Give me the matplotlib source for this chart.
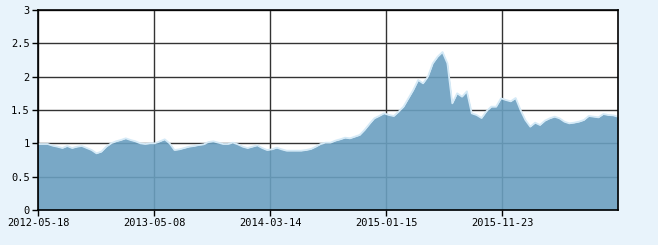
import matplotlib
matplotlib.use("Agg")
import matplotlib.pyplot as plt
import numpy as np

# values, left to right (evenly spaced trading days)
values = [
    0.99, 0.99, 0.99, 0.965, 0.95, 0.93, 0.96, 0.93, 0.95, 0.96, 0.93, 0.90,
    0.85, 0.875, 0.95, 1.00, 1.03, 1.05, 1.075, 1.05, 1.03, 1.00, 0.99, 1.00,
    1.00, 1.03, 1.06, 1.00, 0.90, 0.91, 0.93, 0.95, 0.96, 0.975, 0.985, 1.02,
    1.03, 1.01, 0.99, 0.99, 1.01, 0.985, 0.95, 0.93, 0.95, 0.97, 0.93, 0.90,
    0.91, 0.935, 0.91, 0.89, 0.89, 0.89, 0.89, 0.90, 0.915, 0.95, 0.99, 1.01,
    1.01, 1.04, 1.06, 1.085, 1.075, 1.10, 1.125, 1.20, 1.29, 1.375, 1.41, 1.45,
    1.425, 1.41, 1.475, 1.55, 1.675, 1.80, 1.95, 1.90, 2.00, 2.20, 2.30,
    2.37, 2.20, 1.60, 1.75, 1.70, 1.78, 1.45, 1.425, 1.38, 1.48, 1.55, 1.55,
    1.675, 1.65, 1.63, 1.68, 1.50, 1.35, 1.25, 1.31, 1.275, 1.34, 1.375, 1.40,
    1.375, 1.325, 1.30, 1.31, 1.325, 1.35, 1.41, 1.40, 1.39, 1.44, 1.425,
    1.42, 1.40,
]
tick_labels = ["2012-05-18", "2013-05-08", "2014-03-14", "2015-01-15", "2015-11-23"]
y_ticks = [0, 0.5, 1, 1.5, 2, 2.5, 3]
y_labels = ["0", "0.5", "1", "1.5", "2", "2.5", "3"]

bg = "#e8f3fb"
fill_col = "#6a9fc0"

fig = plt.figure(figsize=(6.58, 2.45), dpi=100, facecolor=bg)
ax = fig.add_axes([38 / 658, 35 / 245, 580 / 658, 200 / 245])
ax.set_facecolor("white")

x = np.arange(len(values))
n = len(values) - 1
ax.set_xlim(0, n)
ax.set_ylim(0, 3)

ax.set_axisbelow(True)
ax.grid(True, color="#333333", linewidth=1.0)

ax.fill_between(x, values, 0, color=fill_col, alpha=0.9, linewidth=0, zorder=2)
ax.plot(x, values, color="#d5eaf7", linewidth=1.3, zorder=3)

ax.set_xticks([n * k / 5 for k in range(5)])
ax.set_xticklabels(tick_labels)
ax.set_yticks(y_ticks)
ax.set_yticklabels(y_labels)
ax.tick_params(axis="both", direction="out", length=4, width=1, color="black",
               labelsize=7.5, pad=2)
for lab in ax.get_xticklabels() + ax.get_yticklabels():
    lab.set_family("DejaVu Sans Mono")

for s in ax.spines.values():
    s.set_color("black")
    s.set_linewidth(1.2)
    s.set_zorder(4)

fig.savefig("out.png", dpi=100, facecolor=bg)
